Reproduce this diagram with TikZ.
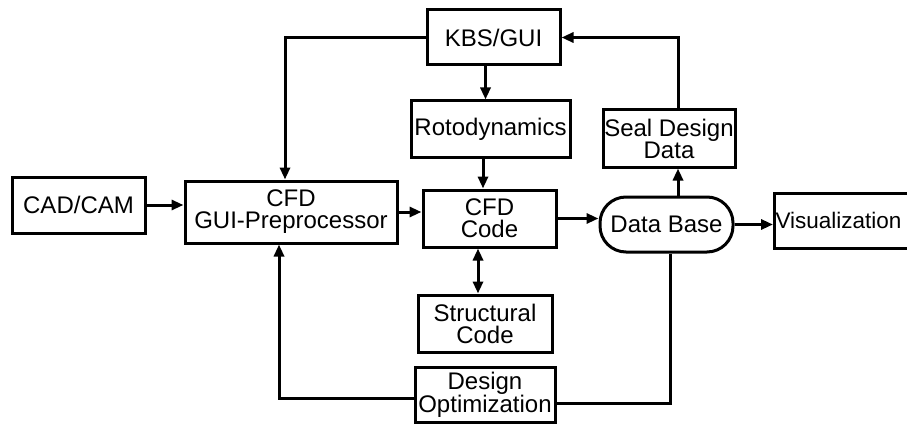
\documentclass[tikz,border=0pt]{standalone}
\usepackage{fontspec}
\setmainfont{Liberation Sans}
\usetikzlibrary{arrows.meta,calc}
\begin{document}
\begin{tikzpicture}[x=1pt,y=-1pt,
  box/.style={draw,line width=3pt,align=center,inner sep=1pt,
    font=\fontsize{24}{22}\selectfont},
  arr/.style={line width=3pt,-{Triangle[length=12pt,width=10pt]}},
  dbl/.style={line width=3pt,{Triangle[length=12pt,width=10pt]}-{Triangle[length=12pt,width=10pt]}},
  con/.style={line width=3pt}]
\useasboundingbox (0,0) rectangle (907,425);
\clip (0,0) rectangle (907,425);
\node[box,minimum width=133pt,minimum height=55pt] (kbs) at (493.5,37.5) {KBS/GUI};
\node[box,minimum width=159pt,minimum height=56pt] (roto) at (490.5,129) {Rotodynamics};
\node[box,minimum width=132pt,minimum height=57pt] (seal) at (669,138.5) {Seal Design\\Data};
\node[box,minimum width=133pt,minimum height=56pt] (cad) at (78.5,205) {CAD/CAM};
\node[box,minimum width=212pt,minimum height=62pt] (gui) at (291,212) {CFD\\GUI-Preprocessor};
\node[box,minimum width=133pt,minimum height=57pt] (cfd) at (489.5,218.5) {CFD\\Code};
\node[box,rounded corners=26pt,minimum width=133pt,minimum height=55pt] (db) at (666.5,224.5) {Data Base};
\node[box,anchor=west,minimum height=55pt,inner xsep=1pt,font=\fontsize{22.5}{22}\selectfont] (vis) at (773,220.5) {Visualization\hspace{6pt}};
\node[box,minimum width=134pt,minimum height=57pt] (struct) at (485,323.5) {Structural\\Code};
\node[box,minimum width=140pt,minimum height=55pt] (desopt) at (485,394.5) {Design\\Optimization};
\coordinate (k1) at ($(kbs.south)+(-8,0)$);
\coordinate (r1) at ($(roto.south)+(-7.5,0)$);
\coordinate (c1) at ($(cfd.south)+(-11.5,0)$);
\coordinate (d1) at ($(db.north)+(11.5,0)$);
\coordinate (s1) at ($(seal.north)+(9,0)$);
\coordinate (d2) at ($(db.south)+(3.5,0)$);
\coordinate (g1) at ($(gui.north)+(-6,0)$);
\coordinate (g2) at ($(gui.south)+(-12,0)$);
\draw[arr] (cad.east) -- (cad.east -| gui.west);
\draw[arr] (gui.east) -- (gui.east -| cfd.west);
\draw[arr] (kbs.west) -| (g1);
\draw[arr] (k1) -- (k1 |- roto.north);
\draw[arr] (r1) -- (r1 |- cfd.north);
\draw[dbl] (c1) -- (c1 |- struct.north);
\draw[arr] (cfd.east) -- (cfd.east -| db.west);
\draw[arr] (db.east) -- (db.east -| vis.west);
\draw[arr] (d1) -- (d1 |- seal.south);
\draw[arr] (s1) |- (kbs.east);
\draw[con] (d2) |- ($(desopt.east)+(0,8.5)$);
\draw[arr] ($(desopt.west)+(0,3.5)$) -| (g2);
\end{tikzpicture}
\end{document}
